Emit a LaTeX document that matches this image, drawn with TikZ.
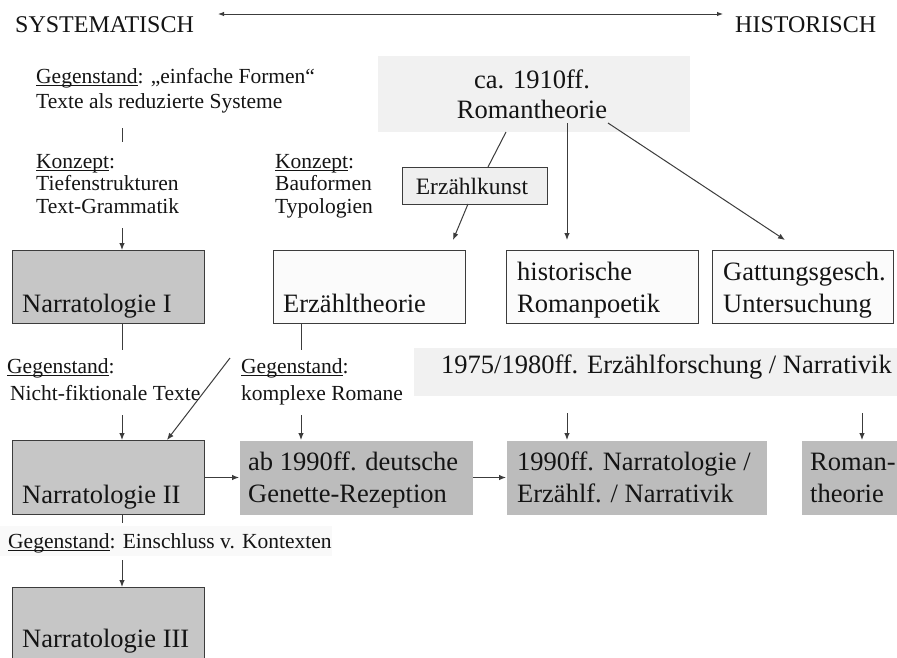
\documentclass[tikz,border=0pt]{standalone}
\usepackage{fontspec}
\setmainfont{Liberation Serif}
\usetikzlibrary{arrows.meta}
\definecolor{ink}{HTML}{141414}
\definecolor{edge}{HTML}{3C3C3C}
\definecolor{boxgrey}{HTML}{C6C6C6}
\definecolor{deepgrey}{HTML}{BCBCBC}
\definecolor{palegrey}{HTML}{EFEFEF}
\definecolor{paper}{HTML}{FBFBFB}
\definecolor{haze}{HTML}{F1F1F1}
\definecolor{faint}{HTML}{F9F9F9}

% underline set close to the baseline, through the descenders
\newlength\ulwidth
\newcommand\ulword[1]{\settowidth\ulwidth{#1}\rlap{\rule[-2.6pt]{\ulwidth}{0.9pt}}#1}

\begin{document}
\begin{tikzpicture}[x=1pt,y=-1pt,
  txt/.style={inner sep=0pt, anchor=base west, text=ink},
  small/.style={txt, font=\fontsize{21.5}{25}\selectfont},
  large/.style={txt, font=\fontsize{26.5}{30}\selectfont},
  head/.style={txt, font=\fontsize{24}{28}\selectfont},
  panel/.style={inner sep=0pt, anchor=north west, line width=1pt},
  greypanel/.style={panel, draw=edge, fill=boxgrey},
  whitepanel/.style={panel, draw=edge, fill=paper},
  flatpanel/.style={panel, fill=deepgrey},
  conn/.style={draw=edge, line width=1pt},
  arr/.style={conn, -{Latex[length=7pt,width=5.5pt]}},
  dblarr/.style={conn, {Latex[length=6pt,width=4.5pt]}-{Latex[length=6pt,width=4.5pt]}}
]
\useasboundingbox (0,0) rectangle (897,657);
\fill[white] (0,0) rectangle (897,657);

% soft background bands
\fill[haze] (378,56) rectangle (690,132);
\fill[haze] (414,348) rectangle (897,396);
\fill[faint] (0,526) rectangle (332,556);

% column references
\coordinate (colA) at (122,0);
\coordinate (colB) at (301,0);
\coordinate (colC) at (567,0);
\coordinate (colD) at (862,0);

% axis
\node[head] (sys) at (15,32) {SYSTEMATISCH};
\node[head] (hist) at (735,32) {HISTORISCH};
\coordinate (axL) at (218,14);
\coordinate (axR) at (723,14);
\draw[dblarr] (axL) -- (axR);

% upper left notes
\node[small] (g1a) at (36,83) {\ulword{Gegenstand}: „einfache Formen“};
\node[small] (g1b) at (36,108) {Texte als reduzierte Systeme};
\node[small] (k1a) at (36,168) {\ulword{Konzept}:};
\node[small] (k1b) at (36,190) {Tiefenstrukturen};
\node[small] (k1c) at (36,213) {Text-Grammatik};
\node[small] (k2a) at (275,168) {\ulword{Konzept}:};
\node[small] (k2b) at (275,190) {Bauformen};
\node[small] (k2c) at (275,213) {Typologien};

% Romantheorie
\node[large, anchor=base] (rt1) at (532,88) {ca. 1910ff.};
\node[large, anchor=base] (rt2) at (532,118) {Romantheorie};
\node[panel, draw=edge, fill=palegrey, minimum width=145pt, minimum height=37pt] (kunst) at (402,167) {};
\node[txt, font=\fontsize{23.5}{27}\selectfont, anchor=base] (kunstT) at (472,194) {Erzählkunst};

% first row of panels
\node[greypanel, minimum width=192pt, minimum height=73pt] (narrI) at (12,250) {};
\node[large] (narrIT) at (22,312) {Narratologie I};
\node[whitepanel, minimum width=192pt, minimum height=73pt] (theo) at (273,250) {};
\node[large] (theoT) at (283,312) {Erzähltheorie};
\node[whitepanel, minimum width=192pt, minimum height=73pt] (poet) at (506,250) {};
\node[large] (poetT1) at (517,280) {historische};
\node[large] (poetT2) at (517,312) {Romanpoetik};
\node[whitepanel, minimum width=181pt, minimum height=73pt] (gatt) at (712,250) {};
\node[large] (gattT1) at (723,280) {Gattungsgesch.};
\node[large] (gattT2) at (723,312) {Untersuchung};

% notes between the rows
\node[small] (g2a) at (7,373) {\ulword{Gegenstand}:};
\node[small] (g2b) at (10,400) {Nicht-fiktionale Texte};
\node[small] (g3a) at (241,373) {\ulword{Gegenstand}:};
\node[small] (g3b) at (241,400) {komplexe Romane};
\node[large] (forsch) at (441,373) {1975/1980ff. Erzählforschung / Narrativik};

% second row of panels
\node[greypanel, minimum width=192pt, minimum height=74pt] (narrII) at (12,440) {};
\node[large] (narrIIT) at (22,503) {Narratologie II};
\node[flatpanel, minimum width=233pt, minimum height=74pt] (gen) at (239,440) {};
\node[large] (genT1) at (248,470) {ab 1990ff. deutsche};
\node[large] (genT2) at (248,502) {Genette-Rezeption};
\node[flatpanel, minimum width=260pt, minimum height=74pt] (nar) at (506,440) {};
\node[large] (narT1) at (517,470) {1990ff. Narratologie /};
\node[large] (narT2) at (517,502) {Erzählf. / Narrativik};
\node[flatpanel, minimum width=100pt, minimum height=74pt] (roman) at (801,440) {};
\node[large] (romanT1) at (810,470) {Roman-};
\node[large] (romanT2) at (810,502) {theorie};

% third level
\node[small] (g4) at (8,548) {\ulword{Gegenstand}: Einschluss v. Kontexten};
\node[greypanel, minimum width=192pt, minimum height=76pt] (narrIII) at (12,587) {};
\node[large] (narrIIIT) at (22,647) {Narratologie III};

% connector ends
\coordinate (t1) at (122,128);
\coordinate (t2) at (122,142);
\coordinate (t3) at (122,228);
\coordinate (rA) at (506,132);
\coordinate (rB) at (488,167);
\coordinate (kB) at (468,204);
\coordinate (kE) at (453,240);
\coordinate (rC) at (567,123);
\coordinate (rCe) at (567,240);
\coordinate (rD) at (608,123);
\coordinate (rDe) at (785,240);
\coordinate (s1) at (122,350);
\coordinate (s2) at (301,350);
\coordinate (s3) at (122,415);
\coordinate (s4) at (301,415);
\coordinate (s5) at (230,358);
\coordinate (s6) at (167,440);
\coordinate (f1) at (567,413);
\coordinate (f2) at (862,413);
\coordinate (u1) at (122,523);
\coordinate (u2) at (122,560);

% connectors
\draw[conn] (t1) -- (t2);
\draw[arr] (t3) -- (narrI.north -| colA);
\draw[conn] (rA) -- (rB);
\draw[arr] (kB) -- (kE);
\draw[arr] (rC) -- (rCe);
\draw[arr] (rD) -- (rDe);
\draw[conn] (narrI.south -| colA) -- (s1);
\draw[conn] (theo.south -| colB) -- (s2);
\draw[arr] (s3) -- (narrII.north -| colA);
\draw[arr] (s4) -- (gen.north -| colB);
\draw[arr] (s5) -- (s6);
\draw[arr] (f1) -- (nar.north -| colC);
\draw[arr] (f2) -- (roman.north -| colD);
\draw[arr] (narrII.east) -- (gen.west |- narrII.east);
\draw[arr] (gen.east) -- (nar.west);
\draw[conn] (narrII.south -| colA) -- (u1);
\draw[arr] (u2) -- (narrIII.north -| colA);
\end{tikzpicture}
\end{document}
